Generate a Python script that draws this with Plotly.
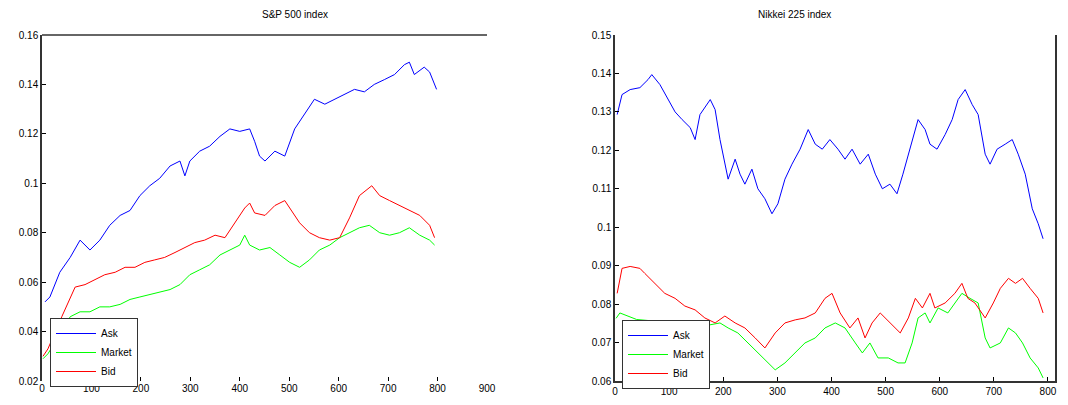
import plotly.graph_objects as go

# ---------------- data: left panel ----------------
left_title = "S&P 500 index"
right_title = "Nikkei 225 index"
series_names = ["Ask", "Market", "Bid"]

l_blue_t = [6, 16, 36, 57, 77, 97, 117, 137, 158, 178, 198, 218, 238, 259, 279, 289, 299, 319, 339, 360,
            380, 400, 420, 430, 440, 451, 471, 491, 511, 531, 551, 572, 592, 612, 632, 652, 672, 693, 713,
            733, 743, 753, 773, 784, 798]
l_blue_v = [0.052, 0.054, 0.064, 0.070, 0.077, 0.073, 0.077, 0.083, 0.087, 0.089, 0.095, 0.099, 0.102,
            0.107, 0.109, 0.103, 0.109, 0.113, 0.115, 0.119, 0.122, 0.121, 0.122, 0.117, 0.111, 0.109,
            0.113, 0.111, 0.122, 0.128, 0.134, 0.132, 0.134, 0.136, 0.138, 0.137, 0.140, 0.142, 0.144,
            0.148, 0.149, 0.144, 0.147, 0.145, 0.138]

l_red_t = [2, 12, 40, 67, 87, 107, 127, 148, 168, 188, 208, 228, 248, 269, 289, 309, 329, 350, 370, 390,
           410, 420, 430, 451, 471, 491, 501, 521, 541, 561, 582, 602, 622, 642, 667, 683, 703, 723, 743,
           764, 784, 794]
l_red_v = [0.030, 0.033, 0.046, 0.058, 0.059, 0.061, 0.063, 0.064, 0.066, 0.066, 0.068, 0.069, 0.070,
           0.072, 0.074, 0.076, 0.077, 0.079, 0.078, 0.084, 0.090, 0.092, 0.088, 0.087, 0.091, 0.093,
           0.090, 0.084, 0.080, 0.078, 0.077, 0.078, 0.086, 0.095, 0.099, 0.095, 0.093, 0.091, 0.089,
           0.087, 0.083, 0.078]

l_green_t = [2, 12, 40, 57, 77, 97, 117, 137, 158, 178, 198, 218, 238, 259, 279, 299, 319, 339, 360, 380,
             400, 410, 420, 440, 461, 481, 501, 521, 541, 561, 582, 602, 622, 642, 662, 683, 703, 723,
             743, 764, 784, 794]
l_green_v = [0.029, 0.031, 0.040, 0.046, 0.048, 0.048, 0.050, 0.050, 0.051, 0.053, 0.054, 0.055, 0.056,
             0.057, 0.059, 0.063, 0.065, 0.067, 0.071, 0.073, 0.075, 0.079, 0.075, 0.073, 0.074, 0.071,
             0.068, 0.066, 0.069, 0.073, 0.075, 0.078, 0.080, 0.082, 0.083, 0.080, 0.079, 0.080, 0.082,
             0.079, 0.077, 0.075]

# ---------------- data: right panel ----------------
r_blue_t = [4, 13, 28, 46, 61, 68, 83, 98, 111, 124, 139, 148, 157, 176, 185, 194, 209, 222, 231, 240,
            253, 264, 277, 290, 301, 314, 327, 342, 357, 370, 383, 397, 412, 425, 438, 453, 468, 481, 494,
            508, 521, 532, 545, 560, 573, 582, 595, 610, 623, 634, 647, 660, 671, 684, 693, 706, 721, 734,
            745, 758, 771, 782, 791]
r_blue_v = [0.1293, 0.1345, 0.1358, 0.1363, 0.1384, 0.1397, 0.1371, 0.1332, 0.1300, 0.1280, 0.1259,
            0.1228, 0.1293, 0.1332, 0.1306, 0.1228, 0.1125, 0.1177, 0.1138, 0.1112, 0.1151, 0.1100,
            0.1074, 0.1035, 0.1061, 0.1125, 0.1164, 0.1203, 0.1254, 0.1216, 0.1203, 0.1228, 0.1203,
            0.1177, 0.1203, 0.1164, 0.1190, 0.1138, 0.1100, 0.1112, 0.1087, 0.1138, 0.1203, 0.1280,
            0.1254, 0.1216, 0.1203, 0.1241, 0.1280, 0.1332, 0.1358, 0.1319, 0.1293, 0.1190, 0.1164,
            0.1203, 0.1216, 0.1228, 0.1190, 0.1138, 0.1048, 0.1009, 0.0970]

r_red_t = [4, 13, 28, 46, 55, 74, 92, 111, 129, 148, 166, 185, 203, 222, 240, 259, 277, 296, 314, 333,
           351, 370, 388, 401, 416, 434, 449, 462, 475, 490, 508, 527, 542, 555, 568, 582, 591, 610, 628,
           641, 652, 665, 684, 699, 712, 727, 740, 753, 767, 782, 791]
r_red_v = [0.0828, 0.0893, 0.0898, 0.0893, 0.0880, 0.0854, 0.0828, 0.0815, 0.0795, 0.0785, 0.0764,
           0.0751, 0.0769, 0.0751, 0.0738, 0.0712, 0.0686, 0.0725, 0.0751, 0.0759, 0.0764, 0.0777,
           0.0815, 0.0828, 0.0777, 0.0738, 0.0764, 0.0712, 0.0751, 0.0777, 0.0751, 0.0725, 0.0764,
           0.0815, 0.0790, 0.0828, 0.0790, 0.0803, 0.0828, 0.0854, 0.0815, 0.0803, 0.0764, 0.0803,
           0.0841, 0.0867, 0.0854, 0.0867, 0.0841, 0.0815, 0.0777]

r_green_t = [2, 9, 40, 80, 120, 160, 194, 209, 227, 246, 264, 283, 296, 314, 333, 351, 370, 388, 407, 425,
             444, 457, 471, 486, 505, 523, 536, 549, 560, 573, 582, 597, 615, 628, 641, 656, 671, 684, 693,
             712, 727, 740, 753, 767, 782, 791]
r_green_v = [0.0763, 0.0777, 0.0760, 0.0755, 0.0748, 0.0742, 0.0751, 0.0738, 0.0725, 0.0699, 0.0673,
             0.0647, 0.0629, 0.0647, 0.0673, 0.0699, 0.0712, 0.0738, 0.0751, 0.0738, 0.0699, 0.0673,
             0.0699, 0.0660, 0.0660, 0.0647, 0.0647, 0.0699, 0.0764, 0.0777, 0.0751, 0.0790, 0.0777,
             0.0803, 0.0828, 0.0815, 0.0803, 0.0712, 0.0686, 0.0699, 0.0738, 0.0725, 0.0699, 0.0660,
             0.0634, 0.0608]

# axis ticks
l_xticks = [0, 100, 200, 300, 400, 500, 600, 700, 800, 900]
l_yticks = [0.02, 0.04, 0.06, 0.08, 0.1, 0.12, 0.14, 0.16]
r_xticks = [0, 100, 200, 300, 400, 500, 600, 700, 800]
r_yticks = [0.06, 0.07, 0.08, 0.09, 0.1, 0.11, 0.12, 0.13, 0.14, 0.15]

colors = ["#0000FF", "#00FF00", "#FF0000"]

# page body has an 8px default margin; compensate so screen positions match
OFF = 8
W, H = 1068 - 2 * OFF, 405 - 2 * OFF
def px_x(p):
    return (p - OFF) / W
def px_y(p):
    return 1 - (p - OFF) / H

fig = go.Figure()

left_sets = [(l_blue_t, l_blue_v), (l_green_t, l_green_v), (l_red_t, l_red_v)]
right_sets = [(r_blue_t, r_blue_v), (r_green_t, r_green_v), (r_red_t, r_red_v)]

for (t, v), c, n in zip(left_sets, colors, series_names):
    fig.add_trace(go.Scatter(x=t, y=v, mode="lines", name=n, line=dict(color=c, width=1),
                             xaxis="x", yaxis="y", legend="legend"))
for (t, v), c, n in zip(right_sets, colors, series_names):
    fig.add_trace(go.Scatter(x=t, y=v, mode="lines", name=n, line=dict(color=c, width=1),
                             xaxis="x2", yaxis="y2", legend="legend2"))

font = dict(family="Liberation Sans, Arial, sans-serif", size=10, color="black")

def fmt(v):
    s = ("%.2f" % v).rstrip("0")
    return s

lx0, lx1, ly0, ly1 = 42, 487, 35, 381
rx0, rx1, ry0, ry1 = 615, 1055, 35, 381

common = dict(ticks="inside", ticklen=4, tickcolor="black", showgrid=False, zeroline=False,
              automargin=False)

fig.update_layout(
    width=W, height=H,
    margin=dict(l=0, r=0, t=0, b=0, autoexpand=False),
    paper_bgcolor="white", plot_bgcolor="white",
    font=font,
    xaxis=dict(domain=[px_x(lx0), px_x(lx1)], range=[0, 900], tickvals=l_xticks,
               ticktext=[str(v) for v in l_xticks], showline=False, anchor="y", **common),
    yaxis=dict(domain=[px_y(ly1), px_y(ly0)], range=[0.02, 0.16], tickvals=l_yticks,
               ticktext=[fmt(v) for v in l_yticks], showline=True, linecolor="#333333",
               linewidth=1.5, anchor="x", **common),
    xaxis2=dict(domain=[px_x(rx0), px_x(rx1)], range=[0, 813], tickvals=r_xticks,
                ticktext=[str(v) for v in r_xticks], showline=True, linecolor="#333333",
                linewidth=1.5, anchor="y2", **common),
    yaxis2=dict(domain=[px_y(ry1), px_y(ry0)], range=[0.06, 0.15], tickvals=r_yticks,
                ticktext=[fmt(v) for v in r_yticks], showline=True, mirror=True,
                linecolor="#333333", linewidth=1.5, anchor="x2", **common),
    legend=dict(x=px_x(50), y=px_y(318), xanchor="left", yanchor="top", bgcolor="white",
                bordercolor="#333333", borderwidth=1, font=dict(size=10, color="black"),
                tracegroupgap=0, itemwidth=40),
    legend2=dict(x=px_x(622), y=px_y(320), xanchor="left", yanchor="top", bgcolor="white",
                 bordercolor="#333333", borderwidth=1, font=dict(size=10, color="black"),
                 tracegroupgap=0, itemwidth=40),
    showlegend=True,
)

# top spine on left panel
fig.add_shape(type="line", xref="paper", yref="paper", x0=px_x(lx0), x1=px_x(lx1),
              y0=px_y(ly0), y1=px_y(ly0), line=dict(color="#333333", width=1.5))

fig.add_annotation(text=left_title, xref="paper", yref="paper", x=px_x(260), y=px_y(15),
                   yanchor="middle", showarrow=False, font=dict(size=10, color="black"))
fig.add_annotation(text=right_title, xref="paper", yref="paper", x=px_x(833), y=px_y(15),
                   yanchor="middle", showarrow=False, font=dict(size=10, color="black"))

fig.write_html("out.html")
